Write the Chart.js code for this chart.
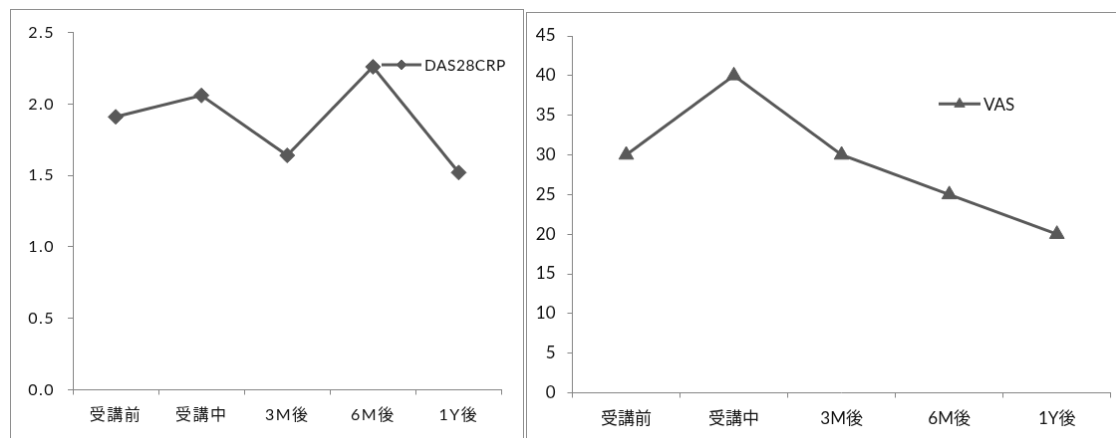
<!DOCTYPE html>
<html>
<head>
<meta charset="utf-8">
<script src="https://cdn.jsdelivr.net/npm/chart.js@4"></script>
<style>
  body { margin: 0; background: #fff; overflow: hidden; width: 1116px; height: 438px; position: relative; }
  canvas { position: absolute; border: 1px solid #8e8e8e; background: #fff; }
  #leftChart { left: 10px; top: 9px; }
  #rightChart { left: 526px; top: 12px; }
</style>
</head>
<body>
<canvas id="leftChart" width="514" height="440"></canvas>
<canvas id="rightChart" width="600" height="440"></canvas>
<script>
const periods = ['受講前', '受講中', '3M後', '6M後', '1Y後'];
const das28crp = [1.91, 2.06, 1.64, 2.26, 1.52];
const vas = [30, 40, 30, 25, 20];
const dasTicks = [0, 0.5, 1.0, 1.5, 2.0, 2.5];
const vasTicks = [0, 5, 10, 15, 20, 25, 30, 35, 40, 45];

const lineColor = '#595959';
const axisColor = '#868686';
const textColor = '#111111';
const fontFamily = "Lato, 'Noto Sans CJK JP', sans-serif";

// stretch the glyphs a bit like the original screenshot
const spacing = {
    id: 'spacing',
    beforeUpdate(chart, args, opts) { chart.ctx.letterSpacing = opts.px + 'px'; },
    beforeDraw(chart, args, opts) { chart.ctx.letterSpacing = opts.px + 'px'; }
};

// excel style legend sitting inside the plot
const insideLegend = {
    id: 'insideLegend',
    afterDraw(chart, args, opts) {
        const ds = chart.data.datasets[0];
        const ctx = chart.ctx;
        ctx.save();
        ctx.letterSpacing = opts.spacing + 'px';
        ctx.strokeStyle = ds.borderColor;
        ctx.fillStyle = ds.borderColor;
        ctx.lineWidth = 3;
        ctx.beginPath();
        ctx.moveTo(opts.x, opts.y);
        ctx.lineTo(opts.x + opts.len, opts.y);
        ctx.stroke();
        ctx.lineWidth = 1;
        Chart.helpers.drawPoint(ctx, { pointStyle: ds.pointStyle, radius: opts.r, borderWidth: 1, rotation: 0 },
            opts.x + opts.len / 2, opts.y);
        ctx.fillStyle = textColor;
        ctx.font = opts.size + 'px ' + fontFamily;
        ctx.textAlign = 'left';
        ctx.textBaseline = 'middle';
        ctx.fillText(ds.label, opts.x + opts.len + 3, opts.y + 1);
        ctx.restore();
    }
};

function makeConfig(label, values, tickValues, style, sizes) {
    return {
        type: 'line',
        data: {
            labels: periods,
            datasets: [{
                label: label,
                data: values,
                borderColor: lineColor,
                backgroundColor: lineColor,
                borderWidth: 3,
                pointStyle: style,
                pointRadius: sizes.point,
                pointBorderWidth: 1,
                pointBackgroundColor: lineColor,
                pointBorderColor: lineColor,
                tension: 0
            }]
        },
        options: {
            responsive: false,
            animation: false,
            layout: { padding: sizes.padding },
            scales: {
                x: {
                    offset: true,
                    grid: { offset: true, drawOnChartArea: false, drawTicks: true, tickLength: 5, color: axisColor },
                    border: { color: axisColor, width: 1 },
                    ticks: { color: textColor, padding: sizes.xPad, maxRotation: 0, font: { family: fontFamily, size: sizes.font } },
                    afterFit: (scale) => { scale.height = 40; }
                },
                y: {
                    min: tickValues[0],
                    max: tickValues[tickValues.length - 1],
                    afterBuildTicks: (scale) => { scale.ticks = tickValues.map(v => ({ value: v })); },
                    grid: { drawOnChartArea: false, drawTicks: true, tickLength: 5, color: axisColor },
                    border: { color: axisColor, width: 1 },
                    ticks: {
                        color: textColor,
                        padding: sizes.yPad,
                        font: { family: fontFamily, size: sizes.font },
                        callback: (v) => sizes.decimals ? Number(v).toFixed(1) : String(v)
                    },
                    afterFit: (scale) => { scale.width = sizes.yWidth; }
                }
            },
            plugins: {
                legend: { display: false },
                tooltip: { enabled: false },
                spacing: { px: sizes.spacing },
                insideLegend: sizes.legend
            }
        },
        plugins: [spacing, insideLegend]
    };
}

new Chart(document.getElementById('leftChart'), makeConfig('DAS28CRP', das28crp, dasTicks, 'rectRot', {
    point: 7.5, font: 16, spacing: 1.5, decimals: true, yWidth: 62, xPad: 11, yPad: 13,
    padding: { left: 0, right: 21.5, top: 22.5, bottom: 18.5 },
    legend: { x: 372, y: 55, len: 40, r: 5, size: 15.5, spacing: 0.5 }
}));

new Chart(document.getElementById('rightChart'), makeConfig('VAS', vas, vasTicks, 'triangle', {
    point: 8.5, font: 17, spacing: 0, decimals: false, yWidth: 45.5, xPad: 11, yPad: 12,
    padding: { left: 0, right: 14.3, top: 23, bottom: 18.5 },
    legend: { x: 413, y: 91.3, len: 42, r: 6, size: 17, spacing: 0 }
}));
</script>
</body>
</html>
